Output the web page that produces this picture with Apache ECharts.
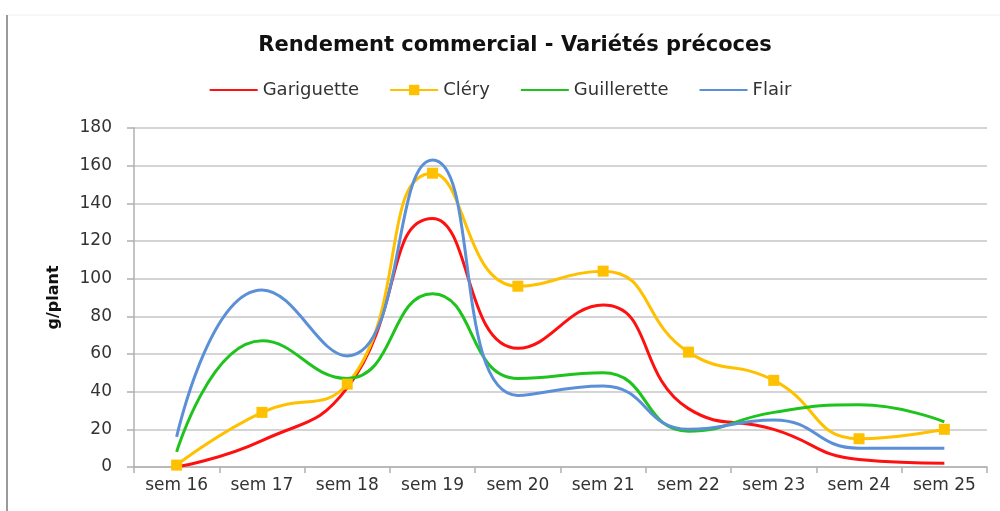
<!DOCTYPE html>
<html>
<head>
<meta charset="utf-8">
<script src="https://cdn.jsdelivr.net/npm/echarts@6/dist/echarts.min.js"></script>
<style>
	html, body { margin: 0; padding: 0; background: #fff; }
	#chart { width: 1000px; height: 511px; }
</style>
</head>
<body>
<div id="chart"></div>
<script>
// semaines
var weeks = ['sem 16', 'sem 17', 'sem 18', 'sem 19', 'sem 20', 'sem 21', 'sem 22', 'sem 23', 'sem 24', 'sem 25'];
// rendement g/plant par variété
var gariguette = [0, 14, 42, 132, 63, 86, 31, 20, 4, 2];
var clery = [1, 29, 44, 156, 96, 104, 61, 46, 15, 20];
var guillerette = [8, 67, 47, 92, 47, 50, 19, 29, 33, 24];
var flair = [16, 94, 59, 163, 38, 43, 20, 25, 10, 10];

var chart = echarts.init(document.getElementById('chart'));

function line(name, data, color, symbol) {
	return {
		name: name,
		type: 'line',
		data: data,
		smooth: 0.5,
		symbol: symbol || 'none',
		symbolSize: 11,
		showSymbol: !!symbol,
		lineStyle: { color: color, width: 3 },
		itemStyle: { color: color },
		emphasis: { disabled: true }
	};
}

chart.setOption({
	animation: false,
	title: {
		text: 'Rendement commercial - Variétés précoces',
		left: 510,
		textAlign: 'center',
		top: 30,
		textStyle: { fontFamily: 'DejaVu Sans', fontSize: 21, fontWeight: 'bold', color: '#111' }
	},
	legend: {
		top: 76,
		left: 'center',
		itemWidth: 48,
		itemHeight: 13,
		itemGap: 30,
		textStyle: { fontFamily: 'DejaVu Sans', fontSize: 18, color: '#333' },
		data: [
			{ name: 'Gariguette', itemStyle: { opacity: 0 } },
			{ name: 'Cléry' },
			{ name: 'Guillerette', itemStyle: { opacity: 0 } },
			{ name: 'Flair', itemStyle: { opacity: 0 } }
		]
	},
	grid: { left: 134, right: 13, top: 128, bottom: 44 },
	xAxis: {
		type: 'category',
		data: weeks,
		boundaryGap: true,
		axisLine: { lineStyle: { color: '#b0b0b0', width: 1.5 } },
		axisTick: { show: true, length: 6, lineStyle: { color: '#b0b0b0', width: 1.5 } },
		axisLabel: { fontFamily: 'DejaVu Sans', fontSize: 17, color: '#333', margin: 10 }
	},
	yAxis: {
		type: 'value',
		min: 0,
		max: 180,
		interval: 20,
		name: 'g/plant',
		nameLocation: 'middle',
		nameRotate: 90,
		nameGap: 72,
		nameTextStyle: { fontFamily: 'DejaVu Sans', fontSize: 16, fontWeight: 'bold', color: '#111' },
		axisLine: { show: true, lineStyle: { color: '#b0b0b0', width: 1.5 } },
		axisTick: { show: true, length: 7, lineStyle: { color: '#b0b0b0', width: 1.5 } },
		axisLabel: { fontFamily: 'DejaVu Sans', fontSize: 17, color: '#333', margin: 22 },
		splitLine: { lineStyle: { color: '#d4d4d4', width: 2 } }
	},
	graphic: [
		{ type: 'line', shape: { x1: 7, y1: 15, x2: 7, y2: 511 }, style: { stroke: '#9a9a9a', lineWidth: 2 } },
		{ type: 'line', shape: { x1: 8, y1: 15, x2: 1000, y2: 15 }, style: { stroke: '#f0f0f0', lineWidth: 1 } }
	],
	series: [
		line('Gariguette', gariguette, '#ff1010'),
		line('Cléry', clery, '#ffc000', 'rect'),
		line('Guillerette', guillerette, '#1ec31e'),
		line('Flair', flair, '#5b8fd8')
	]
});
</script>
</body>
</html>
